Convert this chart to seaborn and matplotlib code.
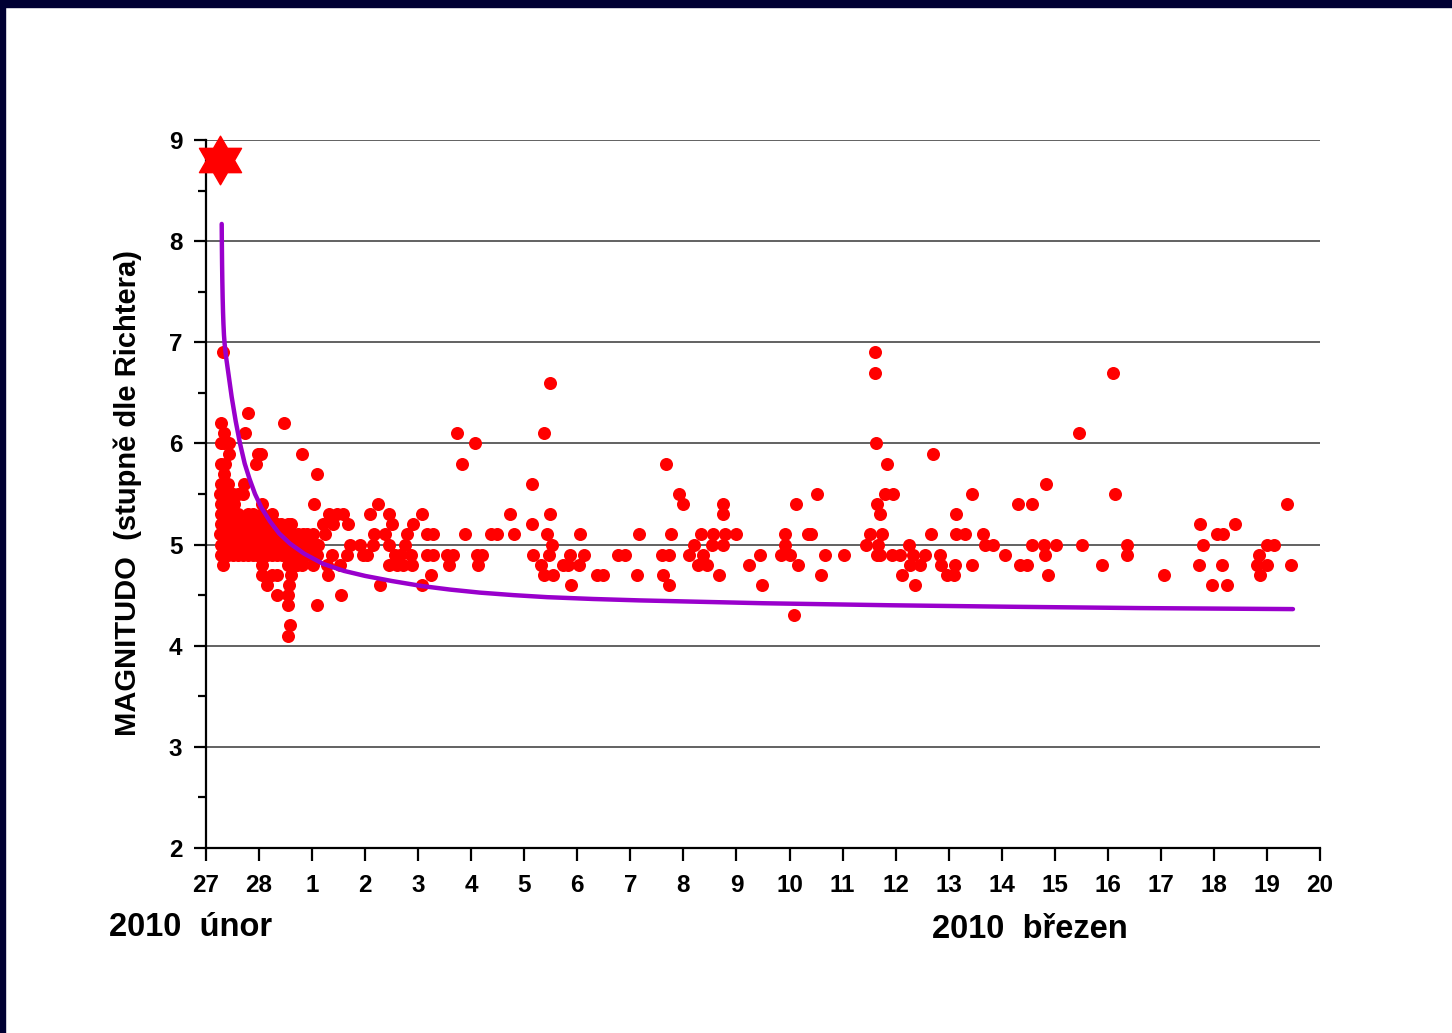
import matplotlib
matplotlib.use("Agg")
import matplotlib.pyplot as plt
from matplotlib.path import Path
from matplotlib.patches import Rectangle
from matplotlib.ticker import MultipleLocator
import seaborn as sns

# time axis: days counted from 27 Feb 2010 00:00
mainshock_day = 0.27
mainshock_mag = 8.8

# aftershocks 27 Feb - 1 Mar (dense cluster, read column by column)
feb_days = [
    0.28, 0.29, 0.27, 0.28, 0.29, 0.28, 0.27, 0.28, 0.28, 0.28, 0.28,
    0.32, 0.35, 0.34, 0.35, 0.34, 0.35, 0.34, 0.35, 0.34, 0.35, 0.34, 0.34, 0.32,
    0.42, 0.43, 0.42, 0.41, 0.42, 0.43, 0.42, 0.41, 0.43, 0.43,
    0.51, 0.52, 0.51, 0.50, 0.51, 0.52, 0.51,
    0.60, 0.61, 0.60, 0.59, 0.60, 0.61,
    0.70, 0.69, 0.70, 0.71, 0.70, 0.72, 0.74,
    0.79, 0.80, 0.79, 0.78, 0.79, 0.79,
    0.89, 0.88, 0.89, 0.90, 0.89,
    0.97, 0.98, 0.97, 0.96, 0.94, 0.98,
    1.06, 1.06, 1.05, 1.06, 1.07, 1.06, 1.06, 1.04,
    1.15, 1.15, 1.16, 1.15, 1.14,
    1.24, 1.25, 1.24, 1.23, 1.24,
    1.34, 1.34, 1.33, 1.34, 1.35, 1.34,
    1.43, 1.44, 1.43, 1.42, 1.47,
    1.55, 1.55, 1.55, 1.57, 1.55, 1.54, 1.55, 1.56, 1.55,
    1.59, 1.60, 1.62, 1.63, 1.62, 1.61,
    1.72, 1.71, 1.72, 1.73,
    1.81, 1.80, 1.81, 1.82, 1.81,
    1.90, 1.91, 1.90,
    2.02, 2.01, 2.02, 2.01, 2.04,
    2.09, 2.10, 2.11, 2.09,
]
feb_mags = [
    4.9, 5.0, 5.1, 5.2, 5.3, 5.4, 5.5, 5.6, 5.8, 6.0, 6.2,
    4.8, 4.9, 5.0, 5.1, 5.2, 5.3, 5.4, 5.5, 5.7, 5.8, 6.0, 6.1, 6.9,
    4.9, 5.0, 5.1, 5.2, 5.3, 5.4, 5.5, 5.6, 5.9, 6.0,
    4.9, 5.0, 5.1, 5.2, 5.3, 5.4, 5.5,
    4.9, 5.0, 5.1, 5.2, 5.3, 5.5,
    4.9, 5.0, 5.1, 5.2, 5.5, 5.6, 6.1,
    4.9, 5.0, 5.1, 5.2, 5.3, 6.3,
    4.9, 5.0, 5.1, 5.2, 5.3,
    4.9, 5.0, 5.1, 5.2, 5.8, 5.9,
    4.7, 4.8, 5.0, 5.1, 5.2, 5.3, 5.4, 5.9,
    4.6, 4.9, 5.0, 5.1, 5.2,
    4.7, 4.9, 5.0, 5.1, 5.3,
    4.5, 4.7, 4.9, 5.0, 5.1, 5.2,
    4.9, 5.0, 5.1, 5.2, 6.2,
    4.1, 4.4, 4.5, 4.6, 4.8, 4.9, 5.0, 5.1, 5.2,
    4.2, 4.7, 4.8, 5.0, 5.1, 5.2,
    4.8, 4.9, 5.0, 5.1,
    4.8, 4.9, 5.0, 5.1, 5.9,
    4.9, 5.0, 5.1,
    4.8, 4.9, 5.0, 5.1, 5.4,
    4.4, 4.9, 5.0, 5.7,
]

# aftershocks 1 - 20 Mar
mar_days = [
    2.21, 2.24, 2.28, 2.30, 2.32, 2.38, 2.39, 2.47, 2.53, 2.54, 2.58, 2.66, 2.68,
    2.71, 2.90, 2.96, 3.03, 3.09, 3.15, 3.17, 3.24, 3.28, 3.38, 3.45, 3.45, 3.45,
    3.51, 3.56, 3.66, 3.60, 3.71, 3.88, 3.75, 3.79, 3.86, 3.90, 4.07, 4.07, 4.17,
    4.28, 4.17, 4.28, 4.24, 4.54, 4.66, 4.58, 4.73, 4.83, 4.88, 5.07, 5.11, 5.20,
    5.13, 5.37, 5.49, 5.73, 5.81, 6.15, 6.15, 6.16, 6.31, 6.37, 6.37, 6.43, 6.47,
    6.48, 6.48, 6.52, 6.54, 6.73, 6.82, 6.86, 6.88, 7.03, 7.05, 7.13, 7.37, 7.48,
    7.77, 7.90, 8.12, 8.16,
    8.60, 8.73, 8.67, 8.61, 8.73, 8.77, 8.92, 8.99, 9.10, 9.20, 9.27, 9.44, 9.33,
    9.37, 9.54, 9.56, 9.67, 9.75, 9.75, 9.75, 9.78, 9.99, 10.24, 10.44, 10.48,
    10.84, 11.01, 10.91, 10.91, 11.08, 11.12, 11.16, 11.35, 11.40, 11.52, 11.59,
    11.67, 12.03, 12.44, 12.52, 12.65,
    12.61, 12.61, 12.63, 12.65, 12.70, 12.84, 12.80, 12.95, 12.74, 12.67, 12.70,
    12.93, 13.08, 13.25, 13.27, 13.46, 13.12, 13.33, 13.55, 13.36, 13.67, 13.70,
    13.84, 13.85, 13.97, 14.10, 14.12, 14.14, 14.14, 14.31, 14.44, 14.44, 14.65,
    14.68, 14.84, 15.06, 15.31, 15.34, 15.48, 15.57, 15.57, 15.80, 15.82, 15.83,
    15.87, 16.02, 16.46, 16.51, 16.89, 17.10, 17.13, 17.36, 17.36,
    18.06, 18.72, 18.74, 18.79, 18.96, 19.06, 19.17, 19.15, 19.25, 19.40, 19.81,
    20.00, 19.85, 19.87, 20.00, 20.13, 20.38, 20.45,
]
mar_mags = [
    5.2, 5.1, 4.8, 4.7, 5.3, 4.9, 5.2, 5.3, 4.8, 4.5, 5.3, 4.9, 5.2,
    5.0, 5.0, 4.9, 4.9, 5.3, 5.0, 5.1, 5.4, 4.6, 5.1, 5.3, 5.0, 4.8,
    5.2, 4.9, 4.9, 4.8, 4.8, 4.8, 5.0, 5.1, 4.9, 5.2, 5.3, 4.6, 5.1,
    5.1, 4.9, 4.9, 4.7, 4.9, 4.9, 4.8, 6.1, 5.8, 5.1, 6.0, 4.9, 4.9,
    4.8, 5.1, 5.1, 5.3, 5.1, 5.6, 5.2, 4.9, 4.8, 6.1, 4.7, 5.1, 4.9,
    6.6, 5.3, 5.0, 4.7, 4.8, 4.8, 4.9, 4.6, 4.8, 5.1, 4.9, 4.7, 4.7,
    4.9, 4.9, 4.7, 5.1,
    4.9, 4.9, 5.8, 4.7, 4.6, 5.1, 5.5, 5.4, 4.9, 5.0, 4.8, 4.8, 5.1,
    4.9, 5.0, 5.1, 4.7, 5.4, 5.3, 5.0, 5.1, 5.1, 4.8, 4.9, 4.6,
    4.9, 4.9, 5.1, 5.0, 4.3, 5.4, 4.8, 5.1, 5.1, 5.5, 4.7,
    4.9, 4.9, 5.0, 5.1, 4.9,
    6.9, 6.7, 6.0, 5.4, 5.3, 5.8, 5.5, 5.5, 5.1, 5.0, 4.9,
    4.9, 4.9, 5.0, 4.8, 4.8, 4.7, 4.9, 4.9, 4.6, 5.1, 5.9,
    4.9, 4.8, 4.7, 4.7, 4.8, 5.3, 5.1, 5.1, 5.5, 4.8, 5.1,
    5.0, 5.0, 4.9, 5.4, 4.8, 4.8, 5.4, 5.0, 5.0, 4.9, 5.6,
    4.7, 5.0, 6.1, 5.0, 4.8, 6.7, 5.5, 5.0, 4.9,
    4.7, 4.8, 5.2, 5.0, 4.6, 5.1, 5.1, 4.8, 4.6, 5.2, 4.8,
    4.8, 4.9, 4.7, 5.0, 5.0, 5.4, 4.8,
]

# decay trend line (purple)
trend_days = [0.296, 0.299, 0.303, 0.308, 0.314, 0.321, 0.329, 0.339, 0.352,
              0.377, 0.42, 0.484, 0.56, 0.641, 0.73, 0.82, 0.924, 1.05, 1.206,
              1.38, 1.583, 1.85, 2.205, 2.6, 3.0, 3.5, 4.07, 4.6, 5.16, 5.8,
              6.43, 7.3, 8.18, 10.5, 12.89, 15.2, 17.61, 20.49]
trend_mags = [8.17, 7.97, 7.78, 7.60, 7.44, 7.30, 7.18, 7.07, 6.98,
              6.86, 6.70, 6.46, 6.22, 6.00, 5.80, 5.65, 5.50, 5.36, 5.23,
              5.11, 5.01, 4.91, 4.81, 4.74, 4.69, 4.64, 4.59, 4.555, 4.525, 4.50,
              4.48, 4.462, 4.448, 4.42, 4.40, 4.385, 4.372, 4.362]

tick_labels = ['27', '28', '1', '2', '3', '4', '5', '6', '7', '8', '9', '10',
               '11', '12', '13', '14', '15', '16', '17', '18', '19', '20']

sns.set_style("white")
plt.rcParams['font.family'] = ['Liberation Sans', 'DejaVu Sans']
plt.rcParams['font.weight'] = 'bold'
plt.rcParams['text.color'] = 'black'
plt.rcParams['xtick.color'] = 'black'
plt.rcParams['ytick.color'] = 'black'

fig = plt.figure(figsize=(14.52, 10.33), dpi=100)
ax = fig.add_axes([206 / 1452, 1 - 848 / 1033, 1114 / 1452, 708 / 1033])

days = feb_days + mar_days
mags = feb_mags + mar_mags

for yv in range(3, 10):
    ax.axhline(yv, color='#555555', lw=1.3, zorder=1)

sns.scatterplot(x=days, y=mags, color='#ff0000', s=88, linewidth=0,
                zorder=3, ax=ax)
sns.lineplot(x=trend_days, y=trend_mags, color='#9900cc', lw=3.2,
             sort=False, estimator=None, zorder=4, ax=ax)

star = Path.unit_regular_star(6, 0.5774)
ax.plot([mainshock_day], [mainshock_mag], marker=star, markersize=35,
        color='#ff0000', linestyle='none', clip_on=False, zorder=5)

ax.set_xlim(0, 21)
ax.set_ylim(2, 9)
ax.set_xticks(range(22))
ax.set_xticklabels(tick_labels)
ax.yaxis.set_major_locator(MultipleLocator(1))
ax.yaxis.set_minor_locator(MultipleLocator(0.5))
ax.tick_params(axis='x', direction='out', length=9, width=1.6, pad=10,
               labelsize=17.5, bottom=True, colors='black')
ax.tick_params(axis='y', which='major', direction='out', length=9, width=1.6,
               pad=8, labelsize=17.5, left=True, colors='black')
ax.tick_params(axis='y', which='minor', direction='out', length=6, width=1.6,
               left=True, colors='black')
for lab in ax.get_xticklabels() + ax.get_yticklabels():
    lab.set_fontweight('bold')

for side in ['top', 'right']:
    ax.spines[side].set_visible(False)
for side in ['left', 'bottom']:
    ax.spines[side].set_color('black')
    ax.spines[side].set_linewidth(1.6)
ax.set_xlabel('')
ax.set_ylabel('')

fig.text(128 / 1452, 1 - 493 / 1033, 'MAGNITUDO  (stupně dle Richtera)',
         rotation=90, ha='center', va='center', fontsize=21, fontweight='bold',
         color='black')
fig.text(191 / 1452, 1 - 927 / 1033, '2010  únor', ha='center', va='center',
         fontsize=23.5, fontweight='bold', color='black')
fig.text(1030 / 1452, 1 - 930 / 1033, '2010  březen', ha='center', va='center',
         fontsize=23.5, fontweight='bold', color='black')

# dark frame along top and left edge
fig.patches.append(Rectangle((0, 1 - 7 / 1033), 1, 7 / 1033,
                             transform=fig.transFigure, color='#000033', zorder=10))
fig.patches.append(Rectangle((0, 0), 5 / 1452, 1,
                             transform=fig.transFigure, color='#000033', zorder=10))

fig.savefig('out.png', dpi=100)
